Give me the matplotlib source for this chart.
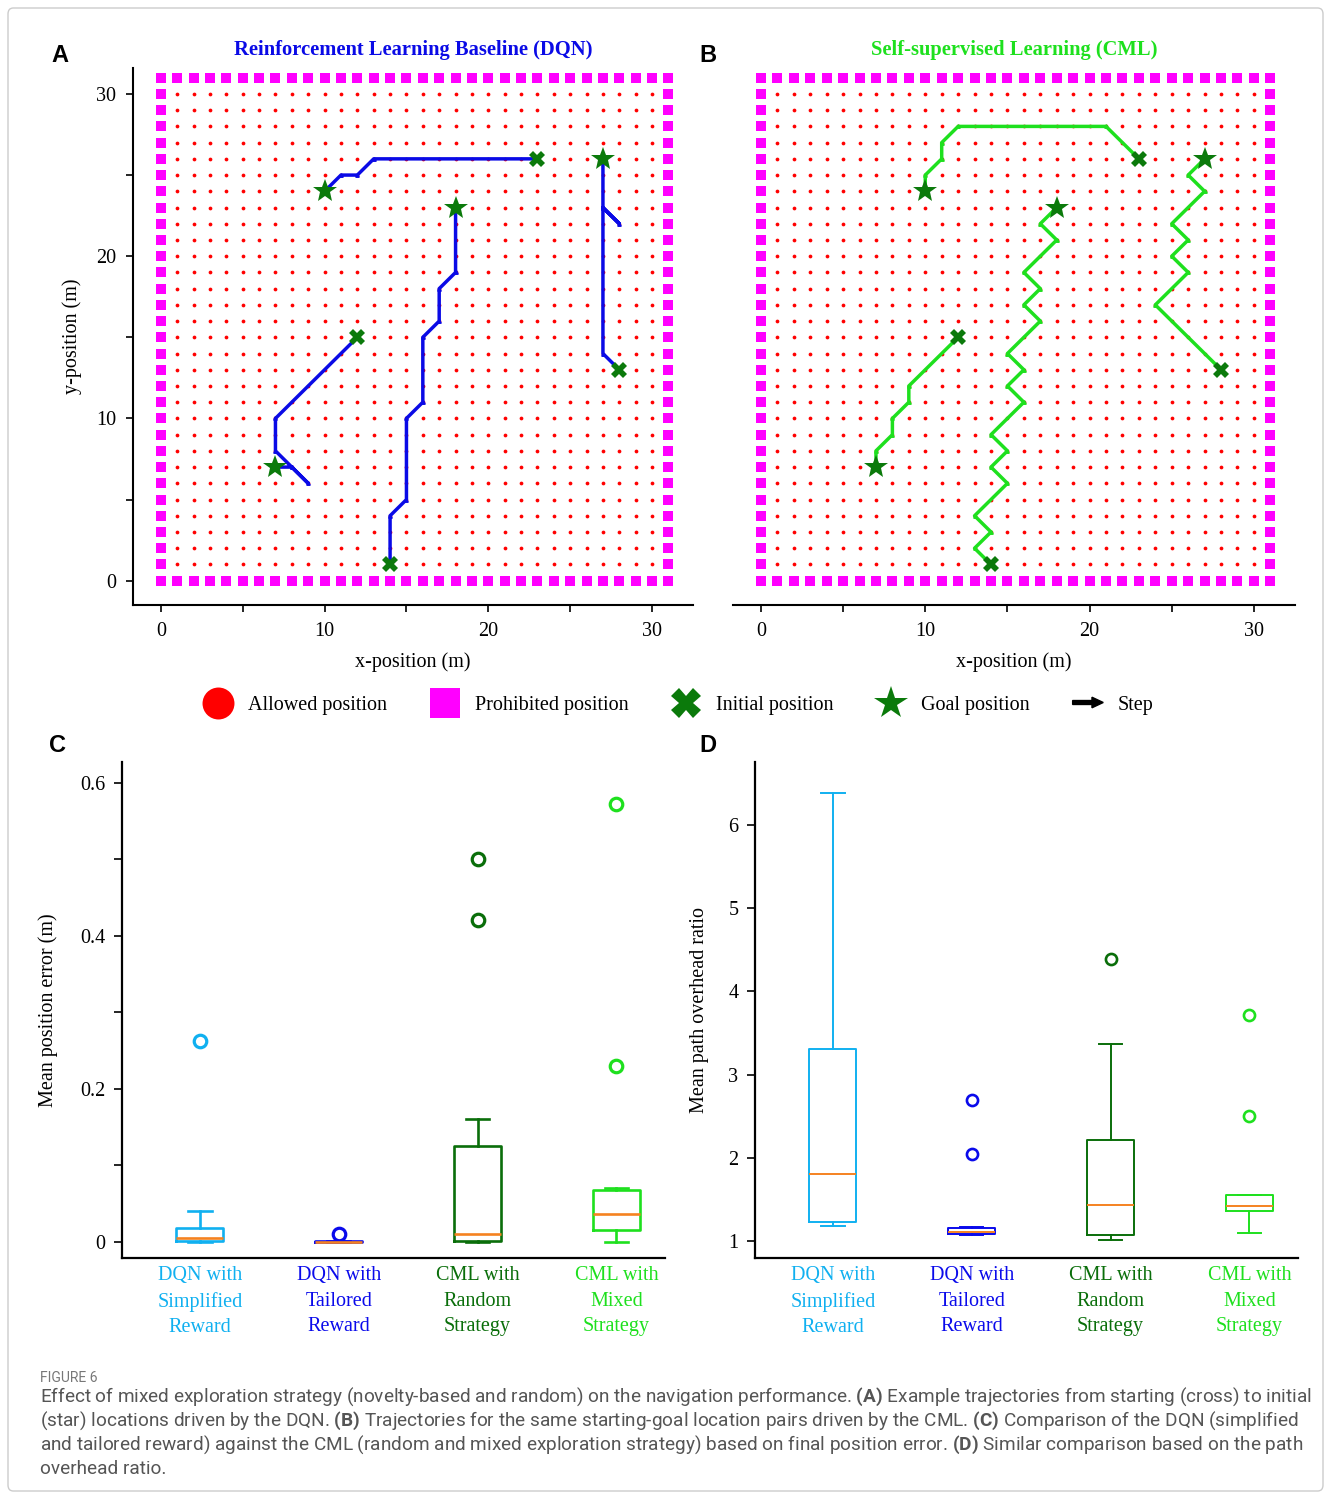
"""Figure 6: DQN vs CML trajectories on the grid world, plus error / overhead boxplots."""
import numpy as np
import matplotlib

matplotlib.use("Agg")
import matplotlib.pyplot as plt  # noqa: E402
import matplotlib.patches as mpatches  # noqa: E402
from matplotlib.lines import Line2D  # noqa: E402
from matplotlib.legend_handler import HandlerPatch  # noqa: E402

SERIF = ["Liberation Serif", "DejaVu Serif"]
plt.rcParams["font.family"] = SERIF
plt.rcParams["mathtext.fontset"] = "custom"
plt.rcParams["mathtext.rm"] = "Roboto"
plt.rcParams["mathtext.bf"] = "Roboto:bold"

# ---- grid world -------------------------------------------------------------
GRID_MAX = 31  # prohibited border at 0 and 31, allowed cells 1..30

STARTS = [(23, 26), (14, 1), (12, 15), (28, 13)]
GOALS = [(10, 24), (18, 23), (7, 7), (27, 26)]

DQN_PATHS = [
    [(23, 26), (13, 26), (12, 25), (11, 25), (10, 24)],
    [(14, 1), (14, 4), (15, 5), (15, 10), (16, 11), (16, 15), (17, 16), (17, 18),
     (18, 19), (18, 23)],
    [(12, 15), (7, 10), (7, 8), (8, 7), (9, 6), (8, 7), (7, 7)],
    [(28, 13), (27, 14), (27, 23), (28, 22), (27, 23), (27, 26)],
]
CML_PATHS = [
    [(23, 26), (21, 28), (12, 28), (11, 27), (11, 26), (10, 25), (10, 24)],
    [(14, 1), (13, 2), (14, 3), (13, 4), (15, 6), (14, 7), (15, 8), (14, 9), (16, 11),
     (15, 12), (16, 13), (15, 14), (17, 16), (16, 17), (17, 18), (16, 19), (18, 21),
     (17, 22), (18, 23)],
    [(12, 15), (9, 12), (9, 11), (8, 10), (8, 9), (7, 8), (7, 7)],
    [(28, 13), (24, 17), (26, 19), (25, 20), (26, 21), (25, 22), (27, 24), (26, 25),
     (27, 26)],
]

# ---- boxplot stats ------------------------------------------------------------
GROUPS = ["DQN with\nSimplified\nReward", "DQN with\nTailored\nReward",
          "CML with\nRandom\nStrategy", "CML with\nMixed\nStrategy"]
GROUP_COLORS = ["#10b0f0", "#0a0aeb", "#0a6e0a", "#1ee01e"]

ERR_WHISLO = [0.0, 0.0, 0.0, 0.0]
ERR_Q1 = [0.001, 0.0, 0.001, 0.015]
ERR_MED = [0.005, 0.0, 0.010, 0.036]
ERR_Q3 = [0.018, 0.001, 0.125, 0.068]
ERR_WHISHI = [0.040, 0.001, 0.160, 0.070]
ERR_FLIERS = [[0.262], [0.010], [0.500, 0.420], [0.572, 0.230]]

OVH_WHISLO = [1.18, 1.08, 1.01, 1.10]
OVH_Q1 = [1.23, 1.09, 1.07, 1.36]
OVH_MED = [1.81, 1.11, 1.44, 1.42]
OVH_Q3 = [3.31, 1.16, 2.21, 1.55]
OVH_WHISHI = [6.38, 1.17, 3.37, 1.55]
OVH_FLIERS = [[], [2.70, 2.05], [4.39], [3.72, 2.50]]

CAPTION = [
    r"Effect of mixed exploration strategy (novelty-based and random) on the navigation performance. $\mathbf{(A)}$ Example trajectories from starting (cross) to initial",
    r"(star) locations driven by the DQN. $\mathbf{(B)}$ Trajectories for the same starting-goal location pairs driven by the CML. $\mathbf{(C)}$ Comparison of the DQN (simplified",
    r"and tailored reward) against the CML (random and mixed exploration strategy) based on final position error. $\mathbf{(D)}$ Similar comparison based on the path",
    "overhead ratio.",
]

W, H = 1331, 1499
fig = plt.figure(figsize=(W / 100, H / 100), dpi=100)


def box(left, top, right, bottom):
    return [left / W, 1 - bottom / H, (right - left) / W, (bottom - top) / H]


def draw_grid(ax, paths, line_color, title, title_color, show_y):
    inner = np.arange(1, GRID_MAX)
    gx, gy = np.meshgrid(inner, inner)
    ax.plot(gx.ravel(), gy.ravel(), "o", color="#ff0000", ms=2.7, mew=0, zorder=1)
    edge = np.arange(0, GRID_MAX + 1)
    bx = np.concatenate([edge, edge, np.zeros_like(edge), np.full_like(edge, GRID_MAX)])
    by = np.concatenate([np.zeros_like(edge), np.full_like(edge, GRID_MAX), edge, edge])
    ax.plot(bx, by, "s", color="#ff00ff", ms=6.6, mew=0, zorder=1)
    for path in paths:
        xs, ys = zip(*path)
        ax.plot(xs, ys, color=line_color, lw=2.5, solid_joinstyle="round",
                solid_capstyle="round", marker="^", ms=2.5, zorder=2)
    sx, sy = zip(*STARTS)
    gx_, gy_ = zip(*GOALS)
    ax.plot(sx, sy, "X", color="#0b7a0b", ms=12, mew=0, zorder=3)
    ax.plot(gx_, gy_, "*", color="#0b7a0b", ms=18, mew=0, zorder=3)

    ax.set_xlim(-1.7, 32.5)
    ax.set_ylim(-1.5, 31.6)
    ax.set_xticks(range(0, 31, 5))
    ax.set_xticklabels(["0", "", "10", "", "20", "", "30"])
    ax.set_xlabel("x-position (m)", fontsize=14.5, labelpad=8)
    for s in ("top", "right"):
        ax.spines[s].set_visible(False)
    for s in ax.spines.values():
        s.set_linewidth(1.5)
    if show_y:
        ax.set_yticks(range(0, 31, 5))
        ax.set_yticklabels(["0", "", "10", "", "20", "", "30"])
        ax.set_ylabel("y-position (m)", fontsize=14.5, labelpad=10)
    else:
        ax.spines["left"].set_visible(False)
        ax.set_yticks([])
    ax.tick_params(labelsize=14.5, length=5, width=1.2, pad=7)
    ax.set_title(title, color=title_color, fontsize=14.8, fontweight="bold", pad=9)


axA = fig.add_axes(box(133, 68, 693, 605))
draw_grid(axA, DQN_PATHS, "#0a0ae6", "Reinforcement Learning Baseline (DQN)", "#0a0ae6", True)
axB = fig.add_axes(box(733, 68, 1295, 605))
draw_grid(axB, CML_PATHS, "#1ee01e", "Self-supervised Learning (CML)", "#1ee01e", False)


def draw_box(ax, whislo, q1, med, q3, whishi, fliers, lw, ms, mew):
    for i in range(len(GROUPS)):
        c = GROUP_COLORS[i]
        stats = [dict(whislo=whislo[i], q1=q1[i], med=med[i], q3=q3[i],
                      whishi=whishi[i], fliers=fliers[i])]
        ax.bxp(stats, positions=[i + 1], widths=0.34, manage_ticks=False,
               boxprops=dict(color=c, lw=lw),
               whiskerprops=dict(color=c, lw=lw),
               capprops=dict(color=c, lw=lw),
               medianprops=dict(color="#f58220", lw=lw),
               flierprops=dict(marker="o", markerfacecolor="none",
                               markeredgecolor=c, ms=ms, mew=mew))
    ax.set_xlim(0.44, 4.35)
    ax.set_xticks(range(1, len(GROUPS) + 1))
    ax.set_xticklabels(GROUPS, fontsize=14.5, linespacing=1.45)
    for lbl, c in zip(ax.get_xticklabels(), GROUP_COLORS):
        lbl.set_color(c)
    ax.tick_params(axis="x", length=0, pad=6)
    ax.tick_params(axis="y", labelsize=14.5, length=6, width=1.2, pad=6)
    for s in ("top", "right"):
        ax.spines[s].set_visible(False)
    for s in ax.spines.values():
        s.set_linewidth(1.6)


axC = fig.add_axes(box(122, 762, 665, 1258))
draw_box(axC, ERR_WHISLO, ERR_Q1, ERR_MED, ERR_Q3, ERR_WHISHI, ERR_FLIERS, 1.9, 9, 2.3)
axC.set_ylim(-0.021, 0.627)
axC.set_yticks([0, 0.1, 0.2, 0.3, 0.4, 0.5, 0.6])
axC.set_yticklabels(["0", "", "0.2", "", "0.4", "", "0.6"])
axC.set_ylabel("Mean position error (m)", fontsize=14.5, labelpad=16)

axD = fig.add_axes(box(755, 762, 1298, 1258))
draw_box(axD, OVH_WHISLO, OVH_Q1, OVH_MED, OVH_Q3, OVH_WHISHI, OVH_FLIERS, 1.4, 8, 1.9)
axD.set_ylim(0.8, 6.75)
axD.set_yticks(range(1, 7))
axD.set_ylabel("Mean path overhead ratio", fontsize=14.5, labelpad=14)

# ---- panel letters -------------------------------------------------------------
for letter, (px, py) in zip("ABCD", [(60, 55), (708, 55), (58, 745), (708, 745)]):
    fig.text(px / W, 1 - py / H, letter, fontsize=17, fontweight="bold",
             family=["Liberation Sans", "DejaVu Sans"], ha="center", va="center")


# ---- shared legend -------------------------------------------------------------
def make_arrow(legend, orig_handle, xdescent, ydescent, width, height, fontsize):
    return mpatches.FancyArrow(width * 0.05, height / 2, width * 0.95, 0,
                               width=height * 0.28, head_width=height * 0.75,
                               head_length=width * 0.35, length_includes_head=True,
                               color="black")


handles = [
    Line2D([], [], ls="none", marker="o", ms=23, color="#ff0000", mew=0),
    Line2D([], [], ls="none", marker="s", ms=21, color="#ff00ff", mew=0),
    Line2D([], [], ls="none", marker="X", ms=21, color="#0b7a0b", mew=0),
    Line2D([], [], ls="none", marker="*", ms=25, color="#0b7a0b", mew=0),
    mpatches.FancyArrow(0, 0, 1, 0, color="black"),
]
labels = ["Allowed position", "Prohibited position", "Initial position",
          "Goal position", "Step"]
fig.legend(handles, labels, loc="center", bbox_to_anchor=(0.509, 1 - 705 / H),
           ncol=5, frameon=False, fontsize=14.5, handlelength=1.6,
           handletextpad=0.7, columnspacing=2.05,
           handler_map={mpatches.FancyArrow: HandlerPatch(patch_func=make_arrow)})

# ---- caption -----------------------------------------------------------------
cap_font = ["Roboto", "DejaVu Sans"]
fig.text(40 / W, 1 - 1378 / H, "FIGURE 6", fontsize=10, color="#777777",
         family=cap_font, va="center", ha="left")
for k, line in enumerate(CAPTION):
    fig.text(40 / W, 1 - (1397 + 24 * k) / H, line, fontsize=13.7, color="#555555",
             family=cap_font, va="center", ha="left")

fig.add_artist(mpatches.FancyBboxPatch(
    (8 / W, 8 / H), (W - 16) / W, (H - 16) / H, boxstyle="round,pad=0,rounding_size=0.004",
    transform=fig.transFigure, fill=False, edgecolor="#cccccc", lw=1.0))

fig.savefig("out.png", dpi=100)
plt.close(fig)
